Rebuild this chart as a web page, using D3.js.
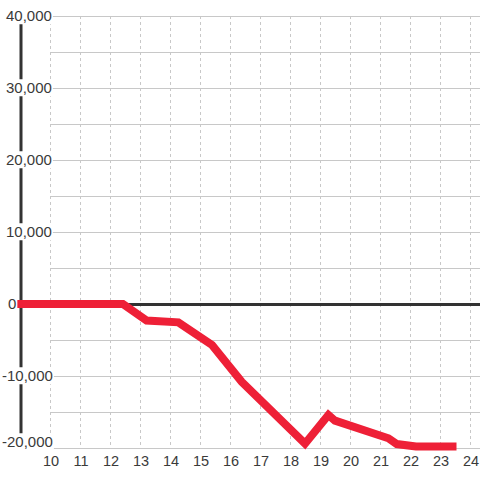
<!DOCTYPE html>
<html>
<head>
<meta charset="utf-8">
<script src="https://cdn.jsdelivr.net/npm/d3@7"></script>
<style>
  html, body { margin: 0; padding: 0; background: #fff; }
  text { font-family: "Liberation Sans", Arial, sans-serif; }
</style>
</head>
<body>
<div id="chart"></div>
<script>
// hours of the day vs running total
var hours = [8.9, 12.43, 13.22, 14.28, 15.4, 16.39, 18.5, 19.28, 19.5, 21.28, 21.56, 22.2, 23.55];
var totals = [0, 0, -2300, -2550, -5700, -10800, -19400, -15400, -16200, -18650, -19450, -19800, -19800];

var xTicks = [10, 11, 12, 13, 14, 15, 16, 17, 18, 19, 20, 21, 22, 23, 24];
var yGrid = [-20000, -15000, -10000, -5000, 0, 5000, 10000, 15000, 20000, 25000, 30000, 35000, 40000];
var yLabels = [40000, 30000, 20000, 10000, 0, -10000, -20000];

var width = 480,
    height = 480;

var x = d3.scaleLinear().domain([9, 24 + 1 / 3]).range([20, width]),
    y = d3.scaleLinear().domain([-20000, 40000]).range([448, 16]);

var fmt = d3.format(",");

var svg = d3.select("#chart").append("svg")
    .attr("width", width)
    .attr("height", height);

// vertical dashed grid
svg.selectAll(".vgrid")
    .data(xTicks)
    .enter().append("line")
    .attr("class", "vgrid")
    .attr("x1", function (d) { return x(d) + 0.5; })
    .attr("x2", function (d) { return x(d) + 0.5; })
    .attr("y1", y(40000))
    .attr("y2", y(-20000))
    .attr("stroke", "#c8c8c8")
    .attr("stroke-dasharray", "3,3");

// horizontal grid
svg.selectAll(".hgrid")
    .data(yGrid)
    .enter().append("line")
    .attr("class", "hgrid")
    .attr("x1", x(10))
    .attr("x2", width)
    .attr("y1", function (d) { return y(d) + 0.5; })
    .attr("y2", function (d) { return y(d) + 0.5; })
    .attr("stroke", "#c8c8c8");

// zero line
svg.append("line")
    .attr("x1", x(9))
    .attr("x2", width)
    .attr("y1", y(0) + 0.5)
    .attr("y2", y(0) + 0.5)
    .attr("stroke", "#333")
    .attr("stroke-width", 3);

// left axis bar
svg.append("line")
    .attr("x1", x(9) + 1)
    .attr("x2", x(9) + 1)
    .attr("y1", y(40000))
    .attr("y2", y(-20000))
    .attr("stroke", "#333")
    .attr("stroke-width", 3);

// the series
var line = d3.line()
    .x(function (d, i) { return x(hours[i]); })
    .y(function (d) { return y(d); });

svg.append("path")
    .datum(totals)
    .attr("d", line)
    .attr("fill", "none")
    .attr("stroke", "#ee2037")
    .attr("stroke-width", 8)
    .attr("stroke-linejoin", "miter");

// y labels with white boxes behind them
var yl = svg.selectAll(".ylabel")
    .data(yLabels)
    .enter().append("g")
    .attr("class", "ylabel")
    .attr("transform", function (d) {
        var ty = d === -20000 ? y(d) - 6 : y(d);
        var tx = d < 0 ? 2 : (d === 0 ? 8 : 6);
        return "translate(" + tx + "," + ty + ")";
    });

yl.append("text")
    .attr("dy", "0.35em")
    .attr("font-size", "15px")
    .attr("fill", "#3a3a3a")
    .text(function (d) { return fmt(d).replace("−", "-"); });

yl.each(function () {
    var g = d3.select(this);
    var bb = g.select("text").node().getBBox();
    g.insert("rect", "text")
        .attr("x", bb.x - 1)
        .attr("y", bb.y)
        .attr("width", bb.width + 2)
        .attr("height", bb.height)
        .attr("fill", "#fff");
});

// x labels
svg.selectAll(".xlabel")
    .data(xTicks)
    .enter().append("text")
    .attr("class", "xlabel")
    .attr("x", function (d) { return x(d) + 1; })
    .attr("y", 466)
    .attr("text-anchor", "middle")
    .attr("font-size", "14.5px")
    .attr("fill", "#3a3a3a")
    .text(function (d) { return d; });
</script>
</body>
</html>
